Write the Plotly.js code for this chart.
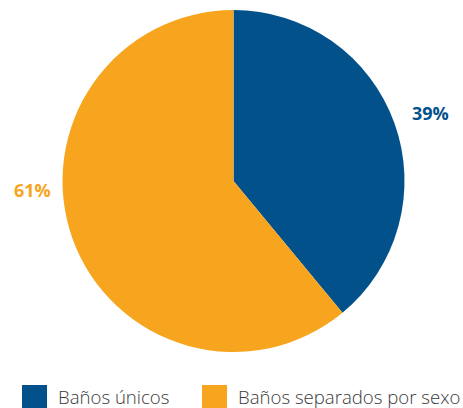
<!DOCTYPE html>
<html>
<head>
<meta charset="utf-8">
<script src="https://cdn.plot.ly/plotly-3.0.1.min.js"></script>
<style>
html,body{margin:0;padding:0;background:#fff;}
#chart{width:463px;height:408px;}
</style>
</head>
<body>
<div id="chart"></div>
<script>
var categories = ["Baños únicos", "Baños separados por sexo"];
var values = [39, 61];
var colors = ["#02518A", "#F7A51E"];

var W = 463, H = 408;
var M = {l: 4, r: 0, t: 10, b: 56};
var pw = W - M.l - M.r, ph = H - M.t - M.b;
function px(x){ return (x - M.l) / pw; }
function py(y){ return (H - M.b - y) / ph; }

var total = values.reduce(function(a,b){return a+b;}, 0);
var labelPos = [[430, 113], [32, 190]];
var annotations = [];
var shapes = [];
values.forEach(function(v, i){
  annotations.push({
    text: "<b>" + Math.round(v / total * 100) + "%</b>",
    xref: "paper", yref: "paper",
    x: px(labelPos[i][0]), y: py(labelPos[i][1]),
    xanchor: "center", yanchor: "middle",
    showarrow: false,
    font: {family: "Open Sans", size: 18, color: colors[i]}
  });
});
var legendX = [22, 202];
categories.forEach(function(c, i){
  shapes.push({
    type: "rect", xref: "paper", yref: "paper",
    x0: px(legendX[i]), x1: px(legendX[i] + 25),
    y0: py(385), y1: py(412),
    fillcolor: colors[i], line: {width: 0}
  });
  annotations.push({
    text: c,
    xref: "paper", yref: "paper",
    x: px(legendX[i] + 34), y: py(396),
    xanchor: "left", yanchor: "middle",
    showarrow: false,
    font: {family: "Open Sans", size: 18.6, color: "#3a3a3a", weight: 300}
  });
});

var data = [{
  type: "pie",
  labels: categories,
  values: values,
  sort: false,
  direction: "clockwise",
  rotation: 0,
  marker: {colors: colors, line: {width: 0}},
  textinfo: "none",
  hoverinfo: "none",
  showlegend: false
}];

var layout = {
  width: W, height: H,
  margin: M,
  paper_bgcolor: "#fff",
  showlegend: false,
  annotations: annotations,
  shapes: shapes
};

Plotly.newPlot("chart", data, layout, {displayModeBar: false, staticPlot: true});
</script>
</body>
</html>
